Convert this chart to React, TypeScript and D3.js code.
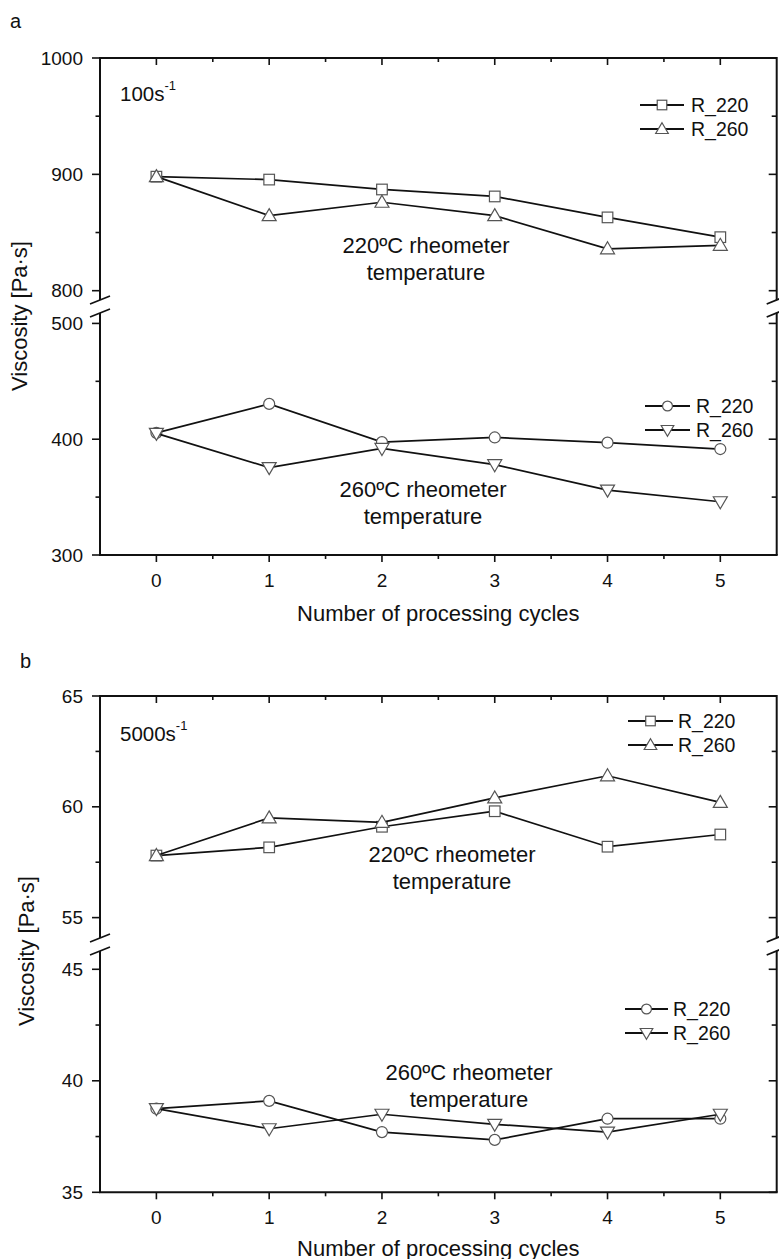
import React from "react";
import * as d3 from "d3";

// ---- data ----
const cycles = [0, 1, 2, 3, 4, 5];
const xTickLabels = ["0", "1", "2", "3", "4", "5"];

// panel a (100 s^-1)
const a220rheo_R220 = [898, 895.5, 887, 881, 863, 846];
const a220rheo_R260 = [898, 864.5, 876, 864.5, 836, 839];
const a260rheo_R220 = [405.5, 430.5, 397.5, 401.5, 397, 391.5];
const a260rheo_R260 = [405, 375.5, 392, 378, 356, 346];
const aUpperMajor = [800, 900, 1000];
const aUpperMinor = [850, 950];
const aLowerMajor = [300, 400, 500];
const aLowerMinor = [350, 450];

// panel b (5000 s^-1)
const b220rheo_R220 = [57.8, 58.17, 59.1, 59.8, 58.2, 58.75];
const b220rheo_R260 = [57.8, 59.5, 59.3, 60.4, 61.4, 60.2];
const b260rheo_R220 = [38.75, 39.1, 37.7, 37.35, 38.3, 38.3];
const b260rheo_R260 = [38.75, 37.85, 38.5, 38.05, 37.7, 38.5];
const bUpperMajor = [55, 60, 65];
const bUpperMinor = [57.5, 62.5];
const bLowerMajor = [35, 40, 45];
const bLowerMinor = [37.5, 42.5];

const seriesNames = ["R_220", "R_260"];

const FONT = "'Liberation Sans', Arial, Helvetica, sans-serif";
const X0 = 100;
const X1 = 776.7;
const x = d3.scaleLinear().domain([-0.5, 5.5]).range([X0, X1]);
const xMinor = [0.5, 1.5, 2.5, 3.5, 4.5];

type Marker = "square" | "up" | "circle" | "down";

function MarkerShape({ type, cx, cy, s = 1 }: { type: Marker; cx: number; cy: number; s?: number }) {
  const common = { fill: "#fff", stroke: "#555", strokeWidth: 1.2 };
  if (type === "square") {
    const h = 5.3 * s;
    return <rect x={cx - h} y={cy - h} width={2 * h} height={2 * h} {...common} />;
  }
  if (type === "circle") {
    return <circle cx={cx} cy={cy} r={5.5 * s} {...common} />;
  }
  if (type === "up") {
    const w = 7 * s;
    return <polygon points={`${cx},${cy - 7 * s} ${cx + w},${cy + 5 * s} ${cx - w},${cy + 5 * s}`} {...common} />;
  }
  const w = 7 * s;
  return <polygon points={`${cx},${cy + 7 * s} ${cx + w},${cy - 5 * s} ${cx - w},${cy - 5 * s}`} {...common} />;
}

function Series({ values, yScale, marker }: { values: number[]; yScale: d3.ScaleLinear<number, number>; marker: Marker }) {
  const line = d3
    .line<number>()
    .x((_, i) => x(cycles[i]))
    .y((v) => yScale(v));
  return (
    <g>
      <path d={line(values) || ""} fill="none" stroke="#111" strokeWidth={1.7} />
      {values.map((v, i) => (
        <MarkerShape key={i} type={marker} cx={x(cycles[i])} cy={yScale(v)} />
      ))}
    </g>
  );
}

function Legend({ x0, x1, tx, y0, dy, markers }: { x0: number; x1: number; tx: number; y0: number; dy: number; markers: Marker[] }) {
  return (
    <g>
      {markers.map((m, i) => {
        const y = y0 + i * dy;
        return (
          <g key={i}>
            <line x1={x0} x2={x1} y1={y} y2={y} stroke="#111" strokeWidth={1.8} />
            <MarkerShape type={m} cx={(x0 + x1) / 2} cy={y} s={0.9} />
            <text x={tx} y={y} dy="0.35em" fontSize={19.5} fontFamily={FONT} fill="#111">
              {seriesNames[i]}
            </text>
          </g>
        );
      })}
    </g>
  );
}

type PanelProps = {
  label: string;
  labelX: number;
  labelY: number;
  rate: string;
  rateY: number;
  yTop: number;
  yBreakUp: number;
  yBreakLow: number;
  yBottom: number;
  upperDomain: [number, number];
  lowerDomain: [number, number];
  upperMajor: number[];
  upperMinor: number[];
  lowerMajor: number[];
  lowerMinor: number[];
  upperSeries: number[][];
  lowerSeries: number[][];
  upperLegend: { x0: number; x1: number; tx: number; y0: number };
  lowerLegend: { x0: number; x1: number; tx: number; y0: number };
  upperNote: { cx: number; cy: number };
  lowerNote: { cx: number; cy: number };
  titleX: number;
  titleY: number;
  xTitleOffset: number;
};

function Panel(p: PanelProps) {
  const upper = d3.scaleLinear().domain(p.upperDomain).range([p.yBreakUp, p.yTop]);
  const lower = d3.scaleLinear().domain(p.lowerDomain).range([p.yBottom, p.yBreakLow]);
  const axisW = 2;
  const yTicks = [
    ...p.upperMajor.map((v) => ({ y: upper(v), major: true, v })),
    ...p.upperMinor.map((v) => ({ y: upper(v), major: false, v })),
    ...p.lowerMajor.map((v) => ({ y: lower(v), major: true, v })),
    ...p.lowerMinor.map((v) => ({ y: lower(v), major: false, v })),
  ];
  const breakMark = (bx: number, by: number, k: string) => (
    <line key={k} x1={bx - 10} y1={by + 4} x2={bx + 10} y2={by - 4} stroke="#111" strokeWidth={1.8} />
  );
  return (
    <g fontFamily={FONT} fill="#111">
      <text x={p.labelX} y={p.labelY} fontSize={20}>{p.label}</text>

      {/* series */}
      <Series values={p.upperSeries[0]} yScale={upper} marker="square" />
      <Series values={p.upperSeries[1]} yScale={upper} marker="up" />
      <Series values={p.lowerSeries[0]} yScale={lower} marker="circle" />
      <Series values={p.lowerSeries[1]} yScale={lower} marker="down" />

      {/* frame */}
      <line x1={X0} x2={X1} y1={p.yTop} y2={p.yTop} stroke="#111" strokeWidth={axisW} />
      <line x1={X0 - 1} x2={X1 + 1} y1={p.yBottom} y2={p.yBottom} stroke="#111" strokeWidth={axisW} />
      {[X0, X1].map((ax) => (
        <g key={ax}>
          <line x1={ax} x2={ax} y1={p.yTop - 1} y2={p.yBreakUp} stroke="#111" strokeWidth={axisW} />
          <line x1={ax} x2={ax} y1={p.yBreakLow} y2={p.yBottom} stroke="#111" strokeWidth={axisW} />
          {breakMark(ax, p.yBreakUp, "u")}
          {breakMark(ax, p.yBreakLow, "l")}
        </g>
      ))}

      {/* y ticks */}
      {yTicks.map((t, i) => (
        <g key={i}>
          <line x1={X0 - (t.major ? 8 : 4.5)} x2={X0} y1={t.y} y2={t.y} stroke="#111" strokeWidth={1.6} />
          <line x1={X1 - (t.major ? 8 : 5)} x2={X1} y1={t.y} y2={t.y} stroke="#111" strokeWidth={1.6} />
          {t.major && (
            <text x={83} y={t.y} dy="0.35em" textAnchor="end" fontSize={19}>
              {t.v}
            </text>
          )}
        </g>
      ))}

      {/* x ticks */}
      {cycles.map((c, i) => (
        <g key={c}>
          <line x1={x(c)} x2={x(c)} y1={p.yBottom} y2={p.yBottom + 7} stroke="#111" strokeWidth={1.6} />
          <line x1={x(c)} x2={x(c)} y1={p.yTop} y2={p.yTop + 7} stroke="#111" strokeWidth={1.6} />
          <text x={x(c)} y={p.yBottom + 25} dy="0.35em" textAnchor="middle" fontSize={19}>
            {xTickLabels[i]}
          </text>
        </g>
      ))}
      {xMinor.map((c) => (
        <g key={c}>
          <line x1={x(c)} x2={x(c)} y1={p.yBottom} y2={p.yBottom + 4} stroke="#111" strokeWidth={1.6} />
          <line x1={x(c)} x2={x(c)} y1={p.yTop} y2={p.yTop + 4} stroke="#111" strokeWidth={1.6} />
        </g>
      ))}

      {/* titles */}
      <text x={(X0 + X1) / 2} y={p.yBottom + p.xTitleOffset} dy="0.35em" textAnchor="middle" fontSize={22}>
        Number of processing cycles
      </text>
      <text
        transform={`translate(${p.titleX},${p.titleY}) rotate(-90)`}
        dy="0.35em"
        textAnchor="middle"
        fontSize={22}
      >
        Viscosity [Pa·s]
      </text>

      {/* rate label */}
      <text x={120} y={p.rateY} fontSize={20.5}>
        {p.rate}
        <tspan fontSize={13} dy={-11}>-1</tspan>
      </text>

      {/* notes */}
      <text x={p.upperNote.cx} y={p.upperNote.cy} dy="0.35em" textAnchor="middle" fontSize={22}>
        220ºC rheometer
      </text>
      <text x={p.upperNote.cx} y={p.upperNote.cy + 27} dy="0.35em" textAnchor="middle" fontSize={22}>
        temperature
      </text>
      <text x={p.lowerNote.cx} y={p.lowerNote.cy} dy="0.35em" textAnchor="middle" fontSize={22}>
        260ºC rheometer
      </text>
      <text x={p.lowerNote.cx} y={p.lowerNote.cy + 27} dy="0.35em" textAnchor="middle" fontSize={22}>
        temperature
      </text>

      <Legend {...p.upperLegend} dy={24} markers={["square", "up"]} />
      <Legend {...p.lowerLegend} dy={24} markers={["circle", "down"]} />
    </g>
  );
}

export default function App() {
  return (
    <svg
      width={779}
      height={1259}
      style={{ position: "absolute", left: 0, top: 0, background: "#fff" }}
    >
      <rect width={779} height={1259} fill="#fff" />
      <Panel
        label="a"
        labelX={10}
        labelY={28}
        rate="100s"
        rateY={101}
        yTop={58}
        yBreakUp={300}
        yBreakLow={313}
        yBottom={555}
        upperDomain={[792, 1000]}
        lowerDomain={[300, 509]}
        upperMajor={aUpperMajor}
        upperMinor={aUpperMinor}
        lowerMajor={aLowerMajor}
        lowerMinor={aLowerMinor}
        upperSeries={[a220rheo_R220, a220rheo_R260]}
        lowerSeries={[a260rheo_R220, a260rheo_R260]}
        upperLegend={{ x0: 640, x1: 684, tx: 691, y0: 105 }}
        lowerLegend={{ x0: 645, x1: 690, tx: 696, y0: 406 }}
        upperNote={{ cx: 426, cy: 245 }}
        lowerNote={{ cx: 423, cy: 489 }}
        titleX={19}
        titleY={316}
        xTitleOffset={58}
      />
      <Panel
        label="b"
        labelX={20}
        labelY={668}
        rate="5000s"
        rateY={741}
        yTop={696}
        yBreakUp={938}
        yBreakLow={951}
        yBottom={1192.3}
        upperDomain={[54.08, 65]}
        lowerDomain={[35, 45.82]}
        upperMajor={bUpperMajor}
        upperMinor={bUpperMinor}
        lowerMajor={bLowerMajor}
        lowerMinor={bLowerMinor}
        upperSeries={[b220rheo_R220, b220rheo_R260]}
        lowerSeries={[b260rheo_R220, b260rheo_R260]}
        upperLegend={{ x0: 628, x1: 673, tx: 678, y0: 721 }}
        lowerLegend={{ x0: 625, x1: 668, tx: 673, y0: 1009 }}
        upperNote={{ cx: 452, cy: 854 }}
        lowerNote={{ cx: 469, cy: 1072 }}
        titleX={26}
        titleY={951}
        xTitleOffset={55.5}
      />
    </svg>
  );
}
